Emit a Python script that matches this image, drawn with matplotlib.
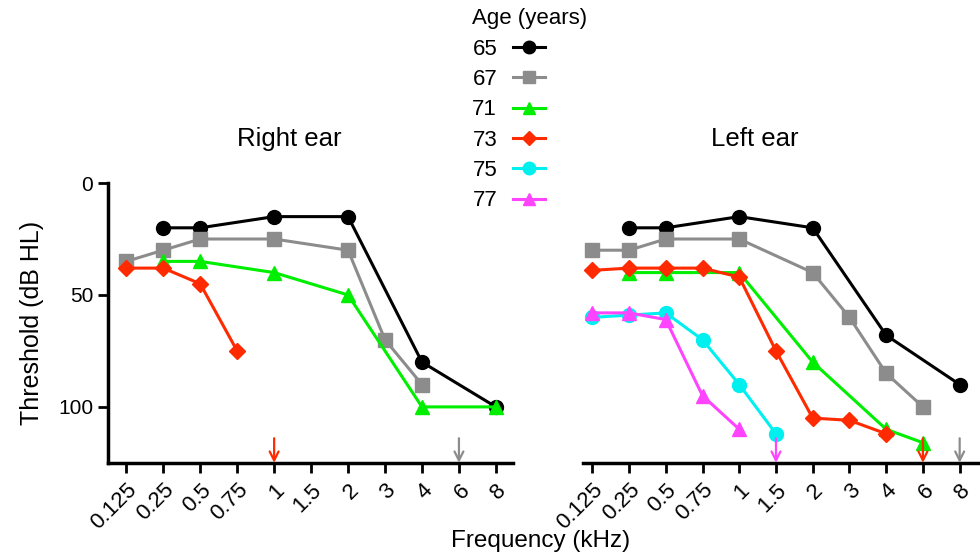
import numpy as np
import matplotlib
matplotlib.use('Agg')
from matplotlib import pyplot as plt

plt.rcParams['font.family'] = ['Liberation Sans', 'DejaVu Sans']

freqs = ['0.125', '0.25', '0.5', '0.75', '1', '1.5', '2', '3', '4', '6', '8']
ages = ['65', '67', '71', '73', '75', '77']
colors = ['black', '#8c8c8c', '#00ee00', '#ff2a00', '#00f0f0', '#ff44ff']
markers = ['o', 's', '^', 'D', 'o', '^']

n = np.nan
# right ear thresholds (dB HL), one list per age
right_65 = [n, 20, 20, n, 15, n, 15, n, 80, n, 100]
right_67 = [35, 30, 25, n, 25, n, 30, 70, 90, n, n]
right_71 = [n, 35, 35, n, 40, n, 50, n, 100, n, 100]
right_73 = [38, 38, 45, 75, n, n, n, n, n, n, n]
# left ear thresholds
left_65 = [n, 20, 20, n, 15, n, 20, n, 68, n, 90]
left_67 = [30, 30, 25, n, 25, n, 40, 60, 85, 100, n]
left_71 = [n, 40, 40, n, 40, n, 80, n, 110, 116, n]
left_73 = [39, 38, 38, 38, 42, 75, 105, 106, 112, n, n]
left_75 = [60, 59, 58, 70, 90, 112, n, n, n, n, n]
left_77 = [58, 58, 61, 95, 110, n, n, n, n, n, n]

# no-response arrows: frequency index, colour
right_arrows = [(4, colors[3]), (9, colors[1])]
left_arrows = [(5, colors[5]), (9, colors[3]), (10, colors[1])]

right_data = [right_65, right_67, right_71, right_73]
left_data = [left_65, left_67, left_71, left_73, left_75, left_77]

fig = plt.figure(figsize=(9.8, 5.53), dpi=100)
ax1 = fig.add_axes([0.110, 0.163, 0.413, 0.506])
ax2 = fig.add_axes([0.595, 0.163, 0.403, 0.506])

x = np.arange(len(freqs))


def draw(ax, data, arrows):
    for i, vals in enumerate(data):
        v = np.array(vals, dtype=float)
        m = ~np.isnan(v)
        ax.plot(x[m], v[m], color=colors[i], marker=markers[i], lw=2.2,
                ms=10 if markers[i] != 'D' else 8, label=ages[i], clip_on=False)
    for xi, c in arrows:
        ax.annotate('', xy=(xi, 125), xytext=(xi, 114),
                    arrowprops=dict(arrowstyle='->', color=c, lw=1.6,
                                    mutation_scale=16, shrinkA=0, shrinkB=0),
                    annotation_clip=False)
    ax.set_ylim(125, 0)
    ax.set_xticks(x)
    ax.set_xticklabels(freqs, rotation=45, ha='right', rotation_mode='anchor',
                       fontsize=16)
    ax.tick_params(axis='x', length=7, width=2, pad=5)
    ax.tick_params(axis='y', length=7, width=2, labelsize=15)
    for s in ['top', 'right']:
        ax.spines[s].set_visible(False)
    ax.spines['bottom'].set_linewidth(2.5)
    ax.spines['left'].set_linewidth(2.5)


draw(ax1, right_data, right_arrows)
draw(ax2, left_data, left_arrows)

ax1.set_xlim(-0.5, 10.45)
ax2.set_xlim(-0.25, 10.5)
ax1.set_yticks([0, 50, 100])
ax2.set_yticks([])
ax2.spines['left'].set_visible(False)

ax1.set_title('Right ear', fontsize=18.5, pad=27, x=0.449)
ax2.set_title('Left ear', fontsize=18.5, pad=27, x=0.435)
ax1.set_ylabel('Threshold (dB HL)', fontsize=18, labelpad=10)
fig.text(0.552, 0.01, 'Frequency (kHz)', fontsize=17.5, ha='center')

handles, labels = ax2.get_legend_handles_labels()
fig.legend(handles, labels, title='Age (years)', loc='upper left',
           bbox_to_anchor=(0.482, 0.985), frameon=False, markerfirst=False,
           fontsize=16, title_fontsize=16, handlelength=1.45,
           handletextpad=0.7, labelspacing=0.42, borderpad=0,
           borderaxespad=0, alignment='left', markerscale=0.9)

plt.savefig('out.png', dpi=100)
